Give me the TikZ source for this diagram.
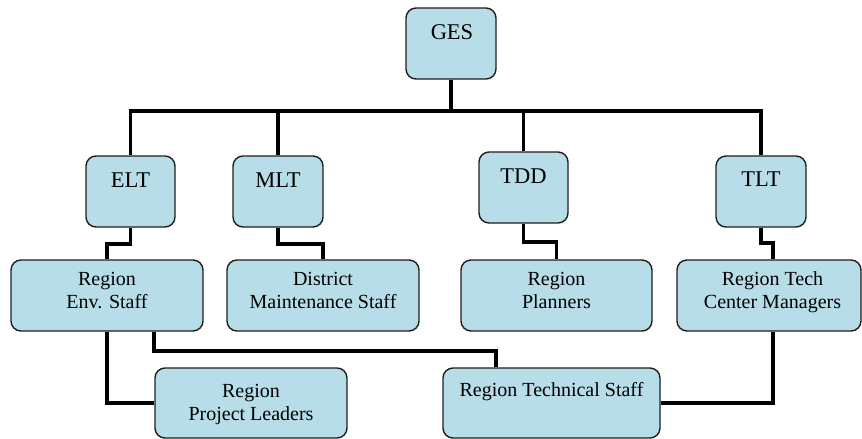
\documentclass[tikz,border=0pt]{standalone}
\usepackage{fontspec}
\setmainfont{Liberation Serif}
\definecolor{boxfill}{RGB}{183,221,232}
\definecolor{boxline}{RGB}{30,30,30}
\begin{document}
\begin{tikzpicture}[x=1pt,y=-1pt,
  orgbox/.style={draw=boxline, line width=1.4pt, fill=boxfill, rounded corners=10pt, inner sep=0pt},
  toplbl/.style={anchor=base, inner sep=0pt, font=\fontsize{22.5}{26}\selectfont},
  lowlbl/.style={anchor=base, inner sep=0pt, align=center, font=\fontsize{20}{23}\selectfont},
  link/.style={line width=3.6pt, draw=black}]
\useasboundingbox (0,0) rectangle (862,439);
% boxes
\node[orgbox, minimum width=90pt, minimum height=71pt] (ges) at (451,43.5) {};
\node[orgbox, minimum width=89pt, minimum height=71pt] (elt) at (130.5,191.5) {};
\node[orgbox, minimum width=90pt, minimum height=71pt] (mlt) at (278,191.5) {};
\node[orgbox, minimum width=89pt, minimum height=71pt] (tdd) at (523.5,187.5) {};
\node[orgbox, minimum width=90pt, minimum height=71pt] (tlt) at (761,191.5) {};
\node[orgbox, minimum width=192pt, minimum height=71pt] (env) at (107,295.5) {};
\node[orgbox, minimum width=192pt, minimum height=71pt] (dms) at (323,295.5) {};
\node[orgbox, minimum width=191pt, minimum height=71pt] (rpl) at (556.5,295.5) {};
\node[orgbox, minimum width=184pt, minimum height=71pt] (tcm) at (769,295.5) {};
\node[orgbox, minimum width=192pt, minimum height=70pt] (rpj) at (251,403) {};
\node[orgbox, minimum width=217pt, minimum height=70pt] (rts) at (551.5,403) {};
% labels
\node[toplbl] (gesT) at (452,39.5) {GES};
\node[toplbl] (eltT) at (130.5,187) {ELT};
\node[toplbl] (mltT) at (278,187) {MLT};
\node[toplbl] (tddT) at (523.5,183) {TDD};
\node[toplbl] (tltT) at (761,186) {TLT};
\node[lowlbl] (envT) at (107,308) {Region\\Env. Staff};
\node[lowlbl] (dmsT) at (323,308) {District\\Maintenance Staff};
\node[lowlbl] (rplT) at (556.5,308) {Region\\Planners};
\node[lowlbl] (tcmT) at (772.5,308) {Region Tech\\Center Managers};
\node[lowlbl] (rpjT) at (251,420) {Region\\Project Leaders};
\node[lowlbl] (rtsT) at (551.5,396) {Region Technical Staff};
% connectors
\draw[link] (ges.south) -- ++(0,31) coordinate (bus);
\draw[link] (elt.north) |- (bus);
\draw[link] (tlt.north) |- (bus);
\draw[link] (mlt.north) -- (mlt.north |- bus);
\draw[link] (tdd.north) -- (tdd.north |- bus);
\draw[link] (elt.south) -- ++(0,16) -| (env.north);
\draw[link] (mlt.south) -- ++(0,16) -| (dms.north);
\draw[link] (tdd.south) -- ++(0,18) -| (rpl.north);
\draw[link] (tlt.south) -- ++(0,15) -| ([xshift=4pt]tcm.north);
\draw[link] (env.south) |- (rpj.west);
\draw[link] ([xshift=47pt]env.south) -- ++(0,19) -| ([xshift=-55.5pt]rts.north);
\draw[link] ([xshift=4pt]tcm.south) |- (rts.east);
\end{tikzpicture}
\end{document}
